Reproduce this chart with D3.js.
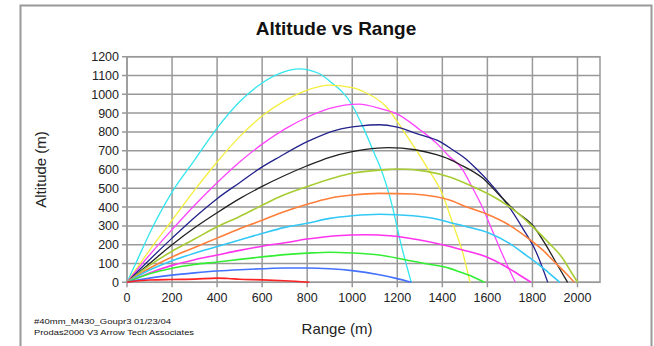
<!DOCTYPE html>
<html>
<head>
<meta charset="utf-8">
<script src="https://cdn.jsdelivr.net/npm/d3@7"></script>
<style>
  body { margin: 0; background: #fff; }
  svg { display: block; font-family: "Liberation Sans", Arial, sans-serif; }
</style>
</head>
<body>
<div id="chart"></div>
<script>
// axis ticks
const rangeTicks = [0, 200, 400, 600, 800, 1000, 1200, 1400, 1600, 1800, 2000];
const altTicks = [0, 100, 200, 300, 400, 500, 600, 700, 800, 900, 1000, 1100, 1200];

// trajectories: [range, altitude]
const trajCyan = [[0,0],[50,130],[100,260],[200,480],[300,650],[400,820],[500,960],[600,1060],[700,1120],[760,1135],[850,1112],[900,1070],[1000,942],[1050,820],[1100,680],[1120,625],[1180,395],[1210,235],[1262,0]];
const trajYellow = [[0,0],[100,170],[200,330],[300,490],[400,640],[500,775],[600,885],[700,965],[800,1022],[900,1049],[1000,1035],[1050,1014],[1150,935],[1225,810],[1285,702],[1330,615],[1400,470],[1450,300],[1490,160],[1523,0]];
const trajMagenta = [[0,0],[100,145],[200,280],[300,410],[400,530],[500,640],[600,735],[700,815],[800,878],[900,925],[1030,948],[1135,920],[1200,895],[1300,812],[1375,739],[1432,668],[1484,610],[1535,500],[1580,394],[1624,269],[1668,145],[1724,0]];
const trajNavy = [[0,0],[100,120],[200,235],[300,345],[400,445],[500,530],[590,606],[678,668],[800,748],[930,810],[1030,831],[1120,838],[1200,825],[1300,785],[1387,750],[1446,705],[1506,655],[1550,605],[1610,530],[1700,394],[1757,287],[1816,163],[1868,0]];
const trajBlack = [[0,0],[100,100],[200,200],[300,290],[400,370],[500,445],[600,510],[700,568],[800,620],[900,665],[1000,695],[1060,707],[1160,716],[1280,705],[1370,680],[1430,655],[1476,628],[1580,553],[1653,464],[1727,376],[1800,305],[1860,198],[1911,92],[1956,0]];
const trajOlive = [[0,0],[100,90],[200,165],[300,230],[400,295],[500,350],[600,410],[678,455],[800,509],[1000,580],[1136,598],[1200,603],[1330,590],[1432,560],[1535,509],[1639,447],[1727,376],[1801,296],[1875,207],[1934,128],[1971,56],[2001,0]];
const trajOrange = [[0,0],[100,75],[200,135],[300,185],[400,235],[500,285],[600,330],[678,367],[800,415],[900,447],[1000,464],[1120,473],[1270,470],[1373,455],[1432,438],[1506,402],[1594,365],[1683,314],[1771,243],[1845,172],[1904,101],[1956,39],[1986,0]];
const trajSky = [[0,0],[100,65],[200,115],[300,155],[400,190],[500,225],[600,260],[700,292],[800,314],[900,340],[1000,354],[1120,362],[1270,354],[1373,337],[1432,318],[1500,298],[1609,261],[1698,207],[1771,145],[1831,92],[1875,48],[1922,0]];
const trajPink = [[0,0],[100,50],[200,90],[300,120],[400,145],[500,170],[600,192],[700,210],[800,230],[930,248],[1060,253],[1166,248],[1300,225],[1400,200],[1491,172],[1594,136],[1683,83],[1742,39],[1794,0]];
const trajGreen = [[0,0],[100,45],[200,75],[300,95],[400,108],[500,122],[600,135],[700,147],[800,155],[900,160],[1000,156],[1120,145],[1240,119],[1343,96],[1432,74],[1476,56],[1535,30],[1587,0]];
const trajBlue = [[0,0],[100,22],[200,38],[300,50],[400,60],[500,67],[600,72],[700,76],[800,76],[900,72],[1000,62],[1120,40],[1195,21],[1262,0]];
const trajRed = [[0,0],[50,8],[100,12],[200,15],[300,17],[400,22],[450,20],[500,16],[600,13],[700,8],[810,0]];

const trajectories = [trajCyan, trajYellow, trajMagenta, trajNavy, trajBlack, trajOlive, trajOrange, trajSky, trajPink, trajGreen, trajBlue, trajRed];
const colors = ["#33e6ee", "#f4ee3c", "#ff44ff", "#22228c", "#222222", "#a8cc33", "#ff7f3a", "#33c8f6", "#ff33ee", "#33ee33", "#4472ff", "#ff2222"];
const widths = [1.3, 1.3, 1.3, 1.3, 1.3, 1.6, 1.6, 1.6, 1.6, 1.6, 1.6, 1.6];

const W = 654, H = 346;
const plotL = 127, plotR = 600, plotT = 56.7, plotB = 282.3;

const svg = d3.select("#chart").append("svg")
  .attr("width", W).attr("height", H);

// outer frame
svg.append("rect")
  .attr("x", 20.5).attr("y", 5.5).attr("width", 631).attr("height", 360)
  .attr("fill", "#fff").attr("stroke", "#999").attr("stroke-width", 2);

const x = d3.scaleLinear().domain([0, 2100]).range([plotL, plotR]);
const y = d3.scaleLinear().domain([0, 1200]).range([plotB, plotT]);

// grid + ticks
const grid = svg.append("g").attr("stroke", "#999").attr("stroke-width", 1.5);
grid.selectAll("line.v").data(rangeTicks).join("line")
  .attr("class", "v")
  .attr("x1", d => x(d)).attr("x2", d => x(d))
  .attr("y1", plotT).attr("y2", plotB + 5);
grid.selectAll("line.h").data(altTicks).join("line")
  .attr("class", "h")
  .attr("x1", plotL - 5).attr("x2", plotR)
  .attr("y1", d => y(d)).attr("y2", d => y(d));
svg.append("rect")
  .attr("x", plotL).attr("y", plotT)
  .attr("width", plotR - plotL).attr("height", plotB - plotT)
  .attr("fill", "none").attr("stroke", "#999").attr("stroke-width", 1.5);

// tick labels
svg.append("g").selectAll("text").data(rangeTicks).join("text")
  .attr("x", d => x(d)).attr("y", plotB + 20)
  .attr("text-anchor", "middle").attr("font-size", 12.5).attr("fill", "#222")
  .text(d => d);
svg.append("g").selectAll("text").data(altTicks).join("text")
  .attr("x", plotL - 8).attr("y", d => y(d) + 4.5)
  .attr("text-anchor", "end").attr("font-size", 12.5).attr("fill", "#222")
  .text(d => d);

// trajectories
svg.append("clipPath").attr("id", "plotClip").append("rect")
  .attr("x", plotL).attr("y", plotT).attr("width", plotR - plotL).attr("height", plotB - plotT + 1);

const line = d3.line()
  .x(d => x(d[0])).y(d => y(d[1]))
  .curve(d3.curveMonotoneX);

svg.append("g").attr("clip-path", "url(#plotClip)")
  .selectAll("path").data(trajectories).join("path")
  .attr("d", line)
  .attr("fill", "none")
  .attr("stroke", (d, i) => colors[i])
  .attr("stroke-width", (d, i) => widths[i]);

// titles
svg.append("text")
  .attr("x", 336).attr("y", 35)
  .attr("text-anchor", "middle").attr("font-size", 19).attr("font-weight", "bold")
  .attr("fill", "#111")
  .text("Altitude vs Range");
svg.append("text")
  .attr("transform", `translate(46,${(plotT + plotB) / 2}) rotate(-90)`)
  .attr("text-anchor", "middle").attr("font-size", 15).attr("fill", "#222")
  .text("Altitude (m)");
svg.append("text")
  .attr("x", 337).attr("y", 334)
  .attr("text-anchor", "middle").attr("font-size", 15).attr("fill", "#222")
  .text("Range (m)");

// footnote
svg.append("text")
  .attr("x", 34).attr("y", 324).attr("font-size", 8).attr("fill", "#111")
  .attr("textLength", 137).attr("lengthAdjust", "spacingAndGlyphs")
  .text("#40mm_M430_Goupr3  01/23/04");
svg.append("text")
  .attr("x", 34).attr("y", 335).attr("font-size", 8).attr("fill", "#111")
  .attr("textLength", 160).attr("lengthAdjust", "spacingAndGlyphs")
  .text("Prodas2000 V3 Arrow Tech Associates");
</script>
</body>
</html>
